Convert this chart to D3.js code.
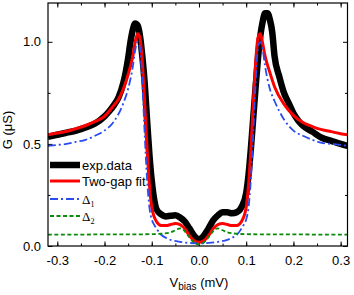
<!DOCTYPE html>
<html lang="en">
<head>
<meta charset="utf-8">
<title>two-gap fit</title>
<script src="https://d3js.org/d3.v7.min.js"></script>
<style>
  body{margin:0;background:#fff;font-family:"Liberation Sans",Arial,sans-serif;}
  .tick text{font-size:13px;font-family:"Liberation Sans",Arial,sans-serif;fill:#000;}
</style>
</head>
<body>
<div id="chart"></div>
<script>
// experimental conductance (V in mV, G in uS)
var expV = [-0.32,-0.30,-0.28,-0.26,-0.24,-0.22,-0.20,-0.19,-0.18,-0.17,-0.16,-0.15,-0.145,-0.14,-0.135,-0.13,-0.125,-0.12,-0.115,-0.11,-0.105,-0.10,-0.095,-0.09,-0.08,-0.07,-0.06,-0.05,-0.04,-0.03,-0.02,-0.01,0.0,0.01,0.02,0.03,0.04,0.05,0.06,0.07,0.08,0.09,0.10,0.105,0.11,0.115,0.12,0.125,0.13,0.135,0.14,0.145,0.15,0.155,0.16,0.17,0.18,0.19,0.20,0.21,0.22,0.24,0.26,0.28,0.30,0.315]
var expG = [0.535,0.545,0.555,0.565,0.58,0.60,0.635,0.66,0.69,0.73,0.80,0.92,1.00,1.06,1.09,1.08,1.03,0.93,0.80,0.62,0.45,0.32,0.23,0.18,0.155,0.145,0.148,0.15,0.14,0.12,0.085,0.05,0.033,0.05,0.085,0.125,0.15,0.165,0.165,0.16,0.165,0.19,0.26,0.35,0.48,0.63,0.78,0.92,1.03,1.10,1.14,1.14,1.11,1.05,0.93,0.83,0.75,0.70,0.65,0.615,0.59,0.56,0.53,0.515,0.50,0.49]

// two-gap fit
var fitV = [-0.32,-0.30,-0.28,-0.26,-0.24,-0.22,-0.20,-0.18,-0.17,-0.16,-0.15,-0.14,-0.135,-0.13,-0.125,-0.12,-0.115,-0.11,-0.105,-0.10,-0.09,-0.08,-0.07,-0.06,-0.05,-0.04,-0.03,-0.02,-0.01,0.0,0.01,0.02,0.03,0.04,0.05,0.06,0.07,0.08,0.09,0.10,0.105,0.11,0.115,0.12,0.125,0.13,0.135,0.14,0.15,0.16,0.18,0.20,0.22,0.24,0.26,0.28,0.30,0.315]
var fitG = [0.545,0.553,0.562,0.575,0.59,0.61,0.635,0.69,0.72,0.77,0.84,0.93,1.00,1.04,1.02,0.90,0.70,0.48,0.30,0.19,0.12,0.10,0.10,0.105,0.11,0.105,0.085,0.05,0.025,0.018,0.025,0.05,0.085,0.105,0.11,0.105,0.10,0.10,0.12,0.19,0.30,0.48,0.70,0.90,1.02,1.04,0.99,0.93,0.85,0.78,0.695,0.64,0.605,0.585,0.57,0.56,0.55,0.545]

// gap 1 component
var d1V = [-0.32,-0.30,-0.28,-0.26,-0.24,-0.22,-0.20,-0.18,-0.16,-0.15,-0.14,-0.135,-0.13,-0.125,-0.12,-0.115,-0.11,-0.105,-0.10,-0.095,-0.09,-0.08,-0.07,-0.06,-0.04,-0.02,0.0,0.02,0.04,0.06,0.07,0.08,0.09,0.095,0.10,0.105,0.11,0.115,0.12,0.125,0.13,0.135,0.14,0.15,0.16,0.18,0.20,0.22,0.24,0.26,0.28,0.30,0.315]
var d1G = [0.49,0.495,0.50,0.51,0.52,0.54,0.565,0.61,0.70,0.77,0.88,0.96,1.00,0.97,0.80,0.55,0.33,0.19,0.13,0.105,0.085,0.055,0.04,0.03,0.02,0.015,0.013,0.015,0.02,0.03,0.04,0.055,0.085,0.105,0.13,0.19,0.33,0.55,0.80,0.97,1.00,0.96,0.88,0.77,0.71,0.62,0.565,0.54,0.52,0.505,0.50,0.495,0.49]

// gap 2 component
var d2V = [-0.32,-0.25,-0.20,-0.15,-0.10,-0.08,-0.06,-0.05,-0.04,-0.035,-0.03,-0.02,-0.01,0.0,0.01,0.02,0.03,0.035,0.04,0.05,0.06,0.08,0.10,0.15,0.20,0.25,0.315]
var d2G = [0.056,0.056,0.057,0.057,0.058,0.06,0.067,0.077,0.086,0.084,0.072,0.042,0.016,0.008,0.016,0.042,0.072,0.084,0.086,0.077,0.067,0.06,0.058,0.057,0.057,0.056,0.056]

var xTicks = [-0.3,-0.2,-0.1,0.0,0.1,0.2,0.3]
var yTicks = [0.0,0.5,1.0]

var W = 354, H = 295
var margin = {left:48, right:6.5, top:3, bottom:49}
var w = W - margin.left - margin.right
var h = H - margin.top - margin.bottom

var svg = d3.select("#chart").append("svg")
    .attr("width", W).attr("height", H)
var g = svg.append("g")
    .attr("transform", "translate(" + margin.left + "," + margin.top + ")")

var xScale = d3.scaleLinear().domain([-0.3197, 0.3145]).range([0, w])
var yScale = d3.scaleLinear().domain([0, 1.19]).range([h, 0])

svg.append("defs").append("clipPath").attr("id", "clip")
    .append("rect").attr("width", w).attr("height", h)

// minor ticks
var xMinor = d3.range(-0.35, 0.351, 0.05).filter(function(v){ return v >= -0.3197 && v <= 0.3145 })
var yMinor = [0.25, 0.75]

function fmt1(d){ return d3.format(".1f")(d).replace("\u2212", "-") }

// bottom axis
g.append("g").attr("transform", "translate(0," + h + ")")
    .call(d3.axisBottom(xScale).tickValues(xMinor).tickSize(-2.5).tickFormat(""))
g.append("g").attr("transform", "translate(0," + h + ")")
    .call(d3.axisBottom(xScale).tickValues(xTicks).tickSize(-4.5).tickPadding(10).tickFormat(fmt1))
// top axis
g.append("g").call(d3.axisTop(xScale).tickValues(xMinor).tickSize(-2.5).tickFormat(""))
g.append("g").call(d3.axisTop(xScale).tickValues(xTicks).tickSize(-4.5).tickFormat(""))
// left axis
g.append("g").call(d3.axisLeft(yScale).tickValues(yMinor).tickSize(-2.5).tickFormat(""))
g.append("g").call(d3.axisLeft(yScale).tickValues(yTicks).tickSize(-4.5).tickPadding(7).tickFormat(fmt1))
// right axis
g.append("g").attr("transform", "translate(" + w + ",0)")
    .call(d3.axisRight(yScale).tickValues(yMinor).tickSize(-2.5).tickFormat(""))
g.append("g").attr("transform", "translate(" + w + ",0)")
    .call(d3.axisRight(yScale).tickValues(yTicks).tickSize(-4.5).tickFormat(""))

g.selectAll(".domain").remove()
g.selectAll(".tick line").attr("stroke", "#000").attr("stroke-width", 1)

// lines
var line = d3.line().curve(d3.curveMonotoneX)
function pts(xs, ys){ return xs.map(function(v, i){ return [xScale(v), yScale(ys[i])] }) }

var plot = g.append("g").attr("clip-path", "url(#clip)")
plot.append("path").attr("d", line(pts(expV, expG)))
    .attr("fill", "none").attr("stroke", "#000").attr("stroke-width", 6.5).attr("stroke-linejoin", "round")
plot.append("path").attr("d", line(pts(fitV, fitG)))
    .attr("fill", "none").attr("stroke", "#ff0000").attr("stroke-width", 3)
plot.append("path").attr("d", line(pts(d1V, d1G)))
    .attr("fill", "none").attr("stroke", "#2a4bf0").attr("stroke-width", 1.8).attr("stroke-dasharray", "8,3,2,3")
plot.append("path").attr("d", line(pts(d2V, d2G)))
    .attr("fill", "none").attr("stroke", "#0a8a0a").attr("stroke-width", 1.8).attr("stroke-dasharray", "4,2.5")

// frame
g.append("rect").attr("width", w).attr("height", h)
    .attr("fill", "none").attr("stroke", "#000").attr("stroke-width", 1.2)

// legend
var legend = [
  {name:"exp.data", color:"#000", width:6.5, dash:null, y:165},
  {name:"Two-gap fit", color:"#ff0000", width:3, dash:null, y:181},
  {name:"\u0394", sub:"1", color:"#2a4bf0", width:1.8, dash:"8,3,2,3", y:199},
  {name:"\u0394", sub:"2", color:"#0a8a0a", width:1.8, dash:"4,2.5", y:216}
]
legend.forEach(function(d){
  svg.append("line").attr("x1", 50).attr("x2", 80).attr("y1", d.y).attr("y2", d.y)
     .attr("stroke", d.color).attr("stroke-width", d.width).attr("stroke-dasharray", d.dash)
  var t = svg.append("text").attr("x", 82).attr("y", d.y + 4.5).attr("font-size", 13)
  if (d.sub) {
    t.attr("font-family", "'Liberation Serif','Times New Roman',serif")
    t.append("tspan").text(d.name)
    t.append("tspan").attr("font-size", 8).attr("dy", 3).text(d.sub)
  } else {
    t.text(d.name)
  }
})

// axis titles
var xl = svg.append("text").attr("x", margin.left + xScale(0)).attr("y", 287)
    .attr("text-anchor", "middle").attr("font-size", 13)
xl.append("tspan").text("V")
xl.append("tspan").attr("font-size", 10).attr("dy", 3).text("bias")
xl.append("tspan").attr("dy", -3).text(" (mV)")

svg.append("text").attr("transform", "translate(12,130) rotate(-90)")
    .attr("text-anchor", "middle").attr("font-size", 13).text("G (\u03bcS)")
</script>
</body>
</html>
